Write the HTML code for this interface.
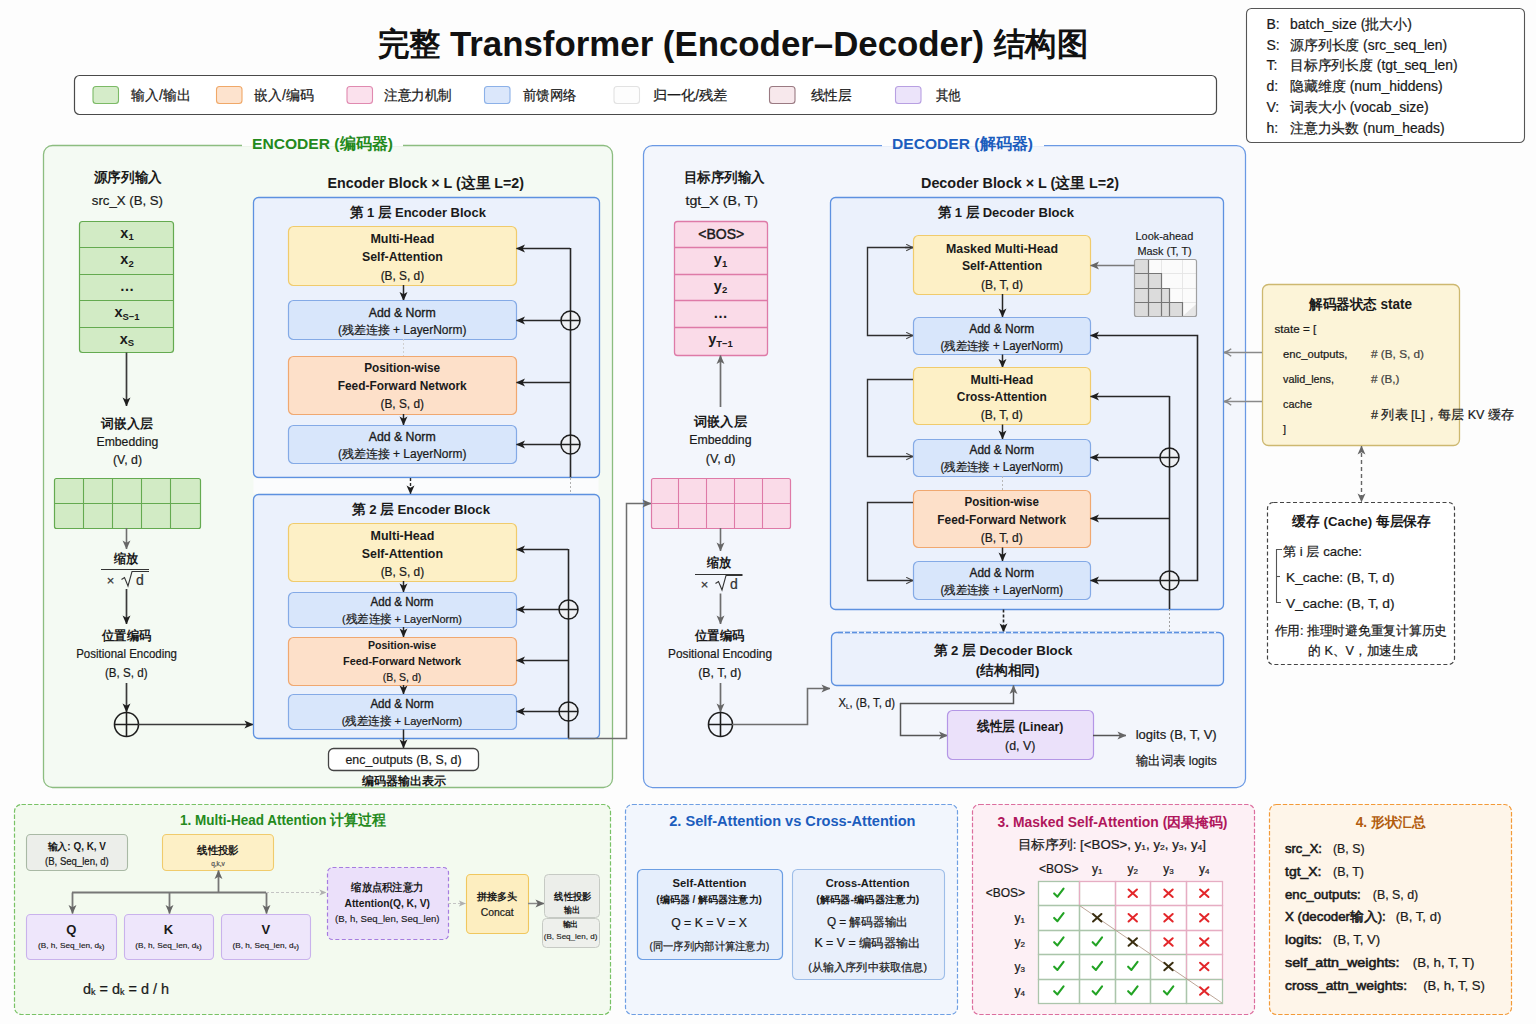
<!DOCTYPE html>
<html><head><meta charset="utf-8"><title>Transformer Encoder-Decoder</title>
<style>
html,body{margin:0;padding:0;background:#fdfdfd;}
body{width:1536px;height:1024px;overflow:hidden;}
svg{display:block;font-family:"Liberation Sans", sans-serif;}
</style></head><body>
<svg width="1536" height="1024" viewBox="0 0 1536 1024">
<rect x="0" y="0" width="1536" height="1024" fill="#fdfdfd"/>
<defs>
<marker id="ahd" viewBox="0 0 10 10" refX="9.5" refY="5" markerWidth="9" markerHeight="9" markerUnits="userSpaceOnUse" orient="auto"><path d="M0,0.6 L10,5 L0,9.4 L2.6,5 z" fill="#1e1e1e"/></marker>
<marker id="ahg" viewBox="0 0 10 10" refX="9.5" refY="5" markerWidth="9" markerHeight="9" markerUnits="userSpaceOnUse" orient="auto"><path d="M0,0.6 L10,5 L0,9.4 L2.6,5 z" fill="#666"/></marker>
<marker id="ahl" viewBox="0 0 10 10" refX="9.5" refY="5" markerWidth="7" markerHeight="7" markerUnits="userSpaceOnUse" orient="auto"><path d="M0,0.6 L10,5 L0,9.4 L2.6,5 z" fill="#b0b0b0"/></marker>
<marker id="ahgs" viewBox="0 0 10 10" refX="0.5" refY="5" markerWidth="9" markerHeight="9" markerUnits="userSpaceOnUse" orient="auto"><path d="M10,0.6 L0,5 L10,9.4 L7.4,5 z" fill="#666"/></marker>
<marker id="ahgo" viewBox="0 0 10 10" refX="9.5" refY="5" markerWidth="9" markerHeight="9" markerUnits="userSpaceOnUse" orient="auto"><path d="M1.5,0.8 Q5,4 9.5,5 Q5,6 1.5,9.2" fill="none" stroke="#888" stroke-width="1.6"/></marker>
<marker id="aho" viewBox="0 0 10 10" refX="9.5" refY="5" markerWidth="8" markerHeight="8" markerUnits="userSpaceOnUse" orient="auto"><path d="M1,1 L9.3,5 L1,9" fill="none" stroke="#444" stroke-width="1.3"/></marker>
</defs>
<text x="732.75" y="44" font-size="35.5" font-weight="bold" fill="#111" text-anchor="middle" dominant-baseline="central" textLength="710.5" lengthAdjust="spacingAndGlyphs" ><tspan font-size="32">完整</tspan> Transformer (Encoder–Decoder) <tspan font-size="32">结构图</tspan></text>
<rect x="74.5" y="75.5" width="1142.0" height="39.0" rx="5" fill="#ffffff" stroke="#4a4a4a" stroke-width="1.2" />
<rect x="93" y="86.5" width="25.5" height="17" rx="3" fill="#d5ecc9" stroke="#7cba66" stroke-width="1.1" />
<text x="131" y="95" font-size="14" font-weight="normal" fill="#1a1a1a" text-anchor="start" dominant-baseline="central" textLength="60" lengthAdjust="spacingAndGlyphs" stroke="#1a1a1a" stroke-width="0.22" >输入/输出</text>
<rect x="216.5" y="86.5" width="25.5" height="17" rx="3" fill="#fde3ce" stroke="#f0a868" stroke-width="1.1" />
<text x="254" y="95" font-size="14" font-weight="normal" fill="#1a1a1a" text-anchor="start" dominant-baseline="central" textLength="60" lengthAdjust="spacingAndGlyphs" stroke="#1a1a1a" stroke-width="0.22" >嵌入/编码</text>
<rect x="347" y="86.5" width="25.5" height="17" rx="3" fill="#fbe1ed" stroke="#e08ab0" stroke-width="1.1" />
<text x="384" y="95" font-size="14" font-weight="normal" fill="#1a1a1a" text-anchor="start" dominant-baseline="central" textLength="67.8" lengthAdjust="spacingAndGlyphs" stroke="#1a1a1a" stroke-width="0.22" >注意力机制</text>
<rect x="484.5" y="86.5" width="25.5" height="17" rx="3" fill="#dbe7fb" stroke="#8cb1e8" stroke-width="1.1" />
<text x="523" y="95" font-size="14" font-weight="normal" fill="#1a1a1a" text-anchor="start" dominant-baseline="central" textLength="53.7" lengthAdjust="spacingAndGlyphs" stroke="#1a1a1a" stroke-width="0.22" >前馈网络</text>
<rect x="614" y="86.5" width="25.5" height="17" rx="3" fill="#fdfdfd" stroke="#e2e2e2" stroke-width="1.1" />
<text x="652.5" y="95" font-size="14" font-weight="normal" fill="#1a1a1a" text-anchor="start" dominant-baseline="central" textLength="75" lengthAdjust="spacingAndGlyphs" stroke="#1a1a1a" stroke-width="0.22" >归一化/残差</text>
<rect x="769.5" y="86.5" width="25.5" height="17" rx="3" fill="#f7e8ec" stroke="#9a7a82" stroke-width="1.1" />
<text x="810.5" y="95" font-size="14" font-weight="normal" fill="#1a1a1a" text-anchor="start" dominant-baseline="central" textLength="41" lengthAdjust="spacingAndGlyphs" stroke="#1a1a1a" stroke-width="0.22" >线性层</text>
<rect x="895.5" y="86.5" width="25.5" height="17" rx="3" fill="#ece4fa" stroke="#b8a0e2" stroke-width="1.1" />
<text x="935.5" y="95" font-size="14" font-weight="normal" fill="#1a1a1a" text-anchor="start" dominant-baseline="central" textLength="25" lengthAdjust="spacingAndGlyphs" stroke="#1a1a1a" stroke-width="0.22" >其他</text>
<rect x="1246.5" y="8.5" width="278.0" height="134.0" rx="5" fill="#ffffff" stroke="#555" stroke-width="1.1" />
<text x="1266.5" y="23.75" font-size="14" font-weight="normal" fill="#1a1a1a" text-anchor="start" dominant-baseline="central" stroke="#1a1a1a" stroke-width="0.22" >B:</text>
<text x="1290" y="23.75" font-size="14" font-weight="normal" fill="#1a1a1a" text-anchor="start" dominant-baseline="central" textLength="122" lengthAdjust="spacingAndGlyphs" stroke="#1a1a1a" stroke-width="0.22" >batch_size (批大小)</text>
<text x="1266.5" y="44.6" font-size="14" font-weight="normal" fill="#1a1a1a" text-anchor="start" dominant-baseline="central" stroke="#1a1a1a" stroke-width="0.22" >S:</text>
<text x="1290" y="44.6" font-size="14" font-weight="normal" fill="#1a1a1a" text-anchor="start" dominant-baseline="central" textLength="157" lengthAdjust="spacingAndGlyphs" stroke="#1a1a1a" stroke-width="0.22" >源序列长度 (src_seq_len)</text>
<text x="1266.5" y="65.45" font-size="14" font-weight="normal" fill="#1a1a1a" text-anchor="start" dominant-baseline="central" stroke="#1a1a1a" stroke-width="0.22" >T:</text>
<text x="1290" y="65.45" font-size="14" font-weight="normal" fill="#1a1a1a" text-anchor="start" dominant-baseline="central" textLength="167.5" lengthAdjust="spacingAndGlyphs" stroke="#1a1a1a" stroke-width="0.22" >目标序列长度 (tgt_seq_len)</text>
<text x="1266.5" y="86.30000000000001" font-size="14" font-weight="normal" fill="#1a1a1a" text-anchor="start" dominant-baseline="central" stroke="#1a1a1a" stroke-width="0.22" >d:</text>
<text x="1290" y="86.30000000000001" font-size="14" font-weight="normal" fill="#1a1a1a" text-anchor="start" dominant-baseline="central" textLength="152.75" lengthAdjust="spacingAndGlyphs" stroke="#1a1a1a" stroke-width="0.22" >隐藏维度 (num_hiddens)</text>
<text x="1266.5" y="107.15" font-size="14" font-weight="normal" fill="#1a1a1a" text-anchor="start" dominant-baseline="central" stroke="#1a1a1a" stroke-width="0.22" >V:</text>
<text x="1290" y="107.15" font-size="14" font-weight="normal" fill="#1a1a1a" text-anchor="start" dominant-baseline="central" textLength="138.75" lengthAdjust="spacingAndGlyphs" stroke="#1a1a1a" stroke-width="0.22" >词表大小 (vocab_size)</text>
<text x="1266.5" y="128.0" font-size="14" font-weight="normal" fill="#1a1a1a" text-anchor="start" dominant-baseline="central" stroke="#1a1a1a" stroke-width="0.22" >h:</text>
<text x="1290" y="128.0" font-size="14" font-weight="normal" fill="#1a1a1a" text-anchor="start" dominant-baseline="central" textLength="154.5" lengthAdjust="spacingAndGlyphs" stroke="#1a1a1a" stroke-width="0.22" >注意力头数 (num_heads)</text>
<rect x="43.5" y="145.5" width="569.0" height="642.0" rx="9" fill="#f4faf3" stroke="#8cbd80" stroke-width="1.3" />
<rect x="242" y="141" width="161" height="5.5" rx="0" fill="#fdfdfd" stroke="none" stroke-width="1" />
<text x="322.5" y="143" font-size="15.5" font-weight="bold" fill="#248a1c" text-anchor="middle" dominant-baseline="central" textLength="141" lengthAdjust="spacingAndGlyphs" >ENCODER (编码器)</text>
<text x="127.75" y="177" font-size="13.5" font-weight="bold" fill="#1a1a1a" text-anchor="middle" dominant-baseline="central" textLength="68" lengthAdjust="spacingAndGlyphs" >源序列输入</text>
<text x="127.4" y="200.5" font-size="13.5" font-weight="normal" fill="#1a1a1a" text-anchor="middle" dominant-baseline="central" textLength="71.25" lengthAdjust="spacingAndGlyphs" stroke="#1a1a1a" stroke-width="0.22" >src_X (B, S)</text>
<rect x="79.5" y="221.5" width="94.0" height="131.0" rx="3" fill="#d2ebc5" stroke="#64aa50" stroke-width="1.2" />
<path d="M79.5,247.5 L173.5,247.5" fill="none" stroke="#64aa50" stroke-width="1.2"/>
<path d="M79.5,274.5 L173.5,274.5" fill="none" stroke="#64aa50" stroke-width="1.2"/>
<path d="M79.5,300.5 L173.5,300.5" fill="none" stroke="#64aa50" stroke-width="1.2"/>
<path d="M79.5,327.5 L173.5,327.5" fill="none" stroke="#64aa50" stroke-width="1.2"/>
<text x="127" y="232.5" font-size="14.5" font-weight="bold" fill="#1a1a1a" text-anchor="middle" dominant-baseline="central" >x<tspan font-size="9.5" dy="3.5">1</tspan></text>
<text x="127" y="259" font-size="14.5" font-weight="bold" fill="#1a1a1a" text-anchor="middle" dominant-baseline="central" >x<tspan font-size="9.5" dy="3.5">2</tspan></text>
<text x="127" y="286" font-size="14.5" font-weight="bold" fill="#1a1a1a" text-anchor="middle" dominant-baseline="central" >…</text>
<text x="127" y="312" font-size="14.5" font-weight="bold" fill="#1a1a1a" text-anchor="middle" dominant-baseline="central" >x<tspan font-size="9.5" dy="3.5">S−1</tspan></text>
<text x="127" y="338.5" font-size="14.5" font-weight="bold" fill="#1a1a1a" text-anchor="middle" dominant-baseline="central" >x<tspan font-size="9.5" dy="3.5">S</tspan></text>
<path d="M126.5,352.5 L126.5,406" fill="none" stroke="#3a3a3a" stroke-width="1.7" marker-end="url(#ahd)"/>
<text x="127.1" y="423" font-size="13" font-weight="bold" fill="#1a1a1a" text-anchor="middle" dominant-baseline="central" textLength="51.75" lengthAdjust="spacingAndGlyphs" >词嵌入层</text>
<text x="127.4" y="441.5" font-size="13" font-weight="normal" fill="#1a1a1a" text-anchor="middle" dominant-baseline="central" textLength="61.75" lengthAdjust="spacingAndGlyphs" stroke="#1a1a1a" stroke-width="0.22" >Embedding</text>
<text x="127.5" y="459.5" font-size="13" font-weight="normal" fill="#1a1a1a" text-anchor="middle" dominant-baseline="central" textLength="29" lengthAdjust="spacingAndGlyphs" stroke="#1a1a1a" stroke-width="0.22" >(V, d)</text>
<rect x="54.5" y="478.5" width="146.0" height="50.0" rx="2" fill="#d2ebc5" stroke="#64aa50" stroke-width="1.2" />
<path d="M83.5,478 L83.5,528" fill="none" stroke="#64aa50" stroke-width="1.1"/>
<path d="M112.5,478 L112.5,528" fill="none" stroke="#64aa50" stroke-width="1.1"/>
<path d="M141.5,478 L141.5,528" fill="none" stroke="#64aa50" stroke-width="1.1"/>
<path d="M170.5,478 L170.5,528" fill="none" stroke="#64aa50" stroke-width="1.1"/>
<path d="M54,503.5 L200,503.5" fill="none" stroke="#64aa50" stroke-width="1.1"/>
<path d="M126.5,528 L126.5,549" fill="none" stroke="#6e6e6e" stroke-width="1.6" marker-end="url(#ahg)"/>
<text x="125.9" y="559" font-size="12.5" font-weight="bold" fill="#1a1a1a" text-anchor="middle" dominant-baseline="central" textLength="24.25" lengthAdjust="spacingAndGlyphs" >缩放</text>
<path d="M101,569.5 L149,569.5" fill="none" stroke="#333" stroke-width="1.1"/>
<text x="110.5" y="580" font-size="13" font-weight="normal" fill="#333" text-anchor="middle" dominant-baseline="central" stroke="#333" stroke-width="0.22" >×</text>
<path d="M121.5,579.5 L124.5,577.5 L128,586 L132,571.5 L149,571.5" fill="none" stroke="#333" stroke-width="1.1"/>
<text x="140" y="580" font-size="14" font-weight="normal" fill="#333" text-anchor="middle" dominant-baseline="central" stroke="#333" stroke-width="0.22" >d</text>
<path d="M126.5,589 L126.5,624" fill="none" stroke="#3a3a3a" stroke-width="1.7" marker-end="url(#ahd)"/>
<text x="126.6" y="635.5" font-size="12.5" font-weight="bold" fill="#1a1a1a" text-anchor="middle" dominant-baseline="central" textLength="49.25" lengthAdjust="spacingAndGlyphs" >位置编码</text>
<text x="126.6" y="653" font-size="13" font-weight="normal" fill="#1a1a1a" text-anchor="middle" dominant-baseline="central" textLength="100.75" lengthAdjust="spacingAndGlyphs" stroke="#1a1a1a" stroke-width="0.22" >Positional Encoding</text>
<text x="126.25" y="672" font-size="13" font-weight="normal" fill="#1a1a1a" text-anchor="middle" dominant-baseline="central" textLength="42.5" lengthAdjust="spacingAndGlyphs" stroke="#1a1a1a" stroke-width="0.22" >(B, S, d)</text>
<path d="M126.5,683 L126.5,712" fill="none" stroke="#3a3a3a" stroke-width="1.7" marker-end="url(#ahd)"/>
<circle cx="126.5" cy="724.5" r="12" fill="none" stroke="#1e1e1e" stroke-width="1.6"/>
<path d="M114.5,724.5 L138.5,724.5 M126.5,712.5 L126.5,736.5" stroke="#1e1e1e" stroke-width="1.6"/>
<path d="M138,724.5 L253,724.5" fill="none" stroke="#3a3a3a" stroke-width="1.6" marker-end="url(#ahd)"/>
<text x="425.75" y="182.5" font-size="14.5" font-weight="bold" fill="#1a1a1a" text-anchor="middle" dominant-baseline="central" textLength="196.5" lengthAdjust="spacingAndGlyphs" >Encoder Block × L (这里 L=2)</text>
<rect x="253.5" y="197.5" width="346.0" height="280.0" rx="5" fill="#ebf1fc" stroke="#5d91e0" stroke-width="1.3" />
<text x="418" y="212" font-size="13.5" font-weight="bold" fill="#1a1a1a" text-anchor="middle" dominant-baseline="central" textLength="136" lengthAdjust="spacingAndGlyphs" >第 1 层 Encoder Block</text>
<rect x="288.5" y="226.5" width="228.0" height="59.0" rx="5" fill="#fdf0c6" stroke="#f0cb6c" stroke-width="1.2" />
<text x="402.4" y="238.5" font-size="12.5" font-weight="bold" fill="#1a1a1a" text-anchor="middle" dominant-baseline="central" textLength="64" lengthAdjust="spacingAndGlyphs" >Multi-Head</text>
<text x="402.4" y="257" font-size="12.5" font-weight="bold" fill="#1a1a1a" text-anchor="middle" dominant-baseline="central" textLength="81" lengthAdjust="spacingAndGlyphs" >Self-Attention</text>
<text x="402.4" y="275.5" font-size="12" font-weight="normal" fill="#1a1a1a" text-anchor="middle" dominant-baseline="central" textLength="43.5" lengthAdjust="spacingAndGlyphs" stroke="#1a1a1a" stroke-width="0.22" >(B, S, d)</text>
<path d="M403.5,285 L403.5,300.5" fill="none" stroke="#262626" stroke-width="1.5" marker-end="url(#ahd)"/>
<rect x="288.5" y="300.5" width="228.0" height="39.0" rx="5" fill="#d8e6fb" stroke="#84aae6" stroke-width="1.2" />
<text x="402.2" y="312" font-size="13" font-weight="normal" fill="#1a1a1a" text-anchor="middle" dominant-baseline="central" textLength="67" lengthAdjust="spacingAndGlyphs" stroke="#1a1a1a" stroke-width="0.35" >Add &amp; Norm</text>
<text x="402.2" y="330" font-size="12" font-weight="normal" fill="#1a1a1a" text-anchor="middle" dominant-baseline="central" textLength="128.5" lengthAdjust="spacingAndGlyphs" stroke="#1a1a1a" stroke-width="0.22" >(残差连接 + LayerNorm)</text>
<path d="M403.5,339 L403.5,356" fill="none" stroke="#d0d0d0" stroke-width="1" stroke-dasharray="2,2"/>
<rect x="288.5" y="356.5" width="228.0" height="58.0" rx="5" fill="#fde0c9" stroke="#f0a870" stroke-width="1.2" />
<text x="402.2" y="368" font-size="12.5" font-weight="bold" fill="#1a1a1a" text-anchor="middle" dominant-baseline="central" textLength="76" lengthAdjust="spacingAndGlyphs" >Position-wise</text>
<text x="402.2" y="385.5" font-size="12.5" font-weight="bold" fill="#1a1a1a" text-anchor="middle" dominant-baseline="central" textLength="129" lengthAdjust="spacingAndGlyphs" >Feed-Forward Network</text>
<text x="402.2" y="404" font-size="12" font-weight="normal" fill="#1a1a1a" text-anchor="middle" dominant-baseline="central" textLength="43.5" lengthAdjust="spacingAndGlyphs" stroke="#1a1a1a" stroke-width="0.22" >(B, S, d)</text>
<path d="M403.5,414 L403.5,425" fill="none" stroke="#262626" stroke-width="1.5" marker-end="url(#ahd)"/>
<rect x="288.5" y="425.5" width="228.0" height="38.0" rx="5" fill="#d8e6fb" stroke="#84aae6" stroke-width="1.2" />
<text x="402.2" y="436" font-size="13" font-weight="normal" fill="#1a1a1a" text-anchor="middle" dominant-baseline="central" textLength="67" lengthAdjust="spacingAndGlyphs" stroke="#1a1a1a" stroke-width="0.35" >Add &amp; Norm</text>
<text x="402.2" y="454" font-size="12" font-weight="normal" fill="#1a1a1a" text-anchor="middle" dominant-baseline="central" textLength="128.5" lengthAdjust="spacingAndGlyphs" stroke="#1a1a1a" stroke-width="0.22" >(残差连接 + LayerNorm)</text>
<path d="M570.5,248 L570.5,477.5" fill="none" stroke="#262626" stroke-width="1.6"/>
<path d="M570.5,477.5 L570.5,494" fill="none" stroke="#c0c0c0" stroke-width="1" stroke-dasharray="2,2"/>
<path d="M570,248.5 L516.5,248.5" fill="none" stroke="#262626" stroke-width="1.6" marker-end="url(#ahd)"/>
<path d="M570,320.5 L516.5,320.5" fill="none" stroke="#262626" stroke-width="1.6" marker-end="url(#ahd)"/>
<path d="M570,382.5 L516.5,382.5" fill="none" stroke="#262626" stroke-width="1.6" marker-end="url(#ahd)"/>
<path d="M570,444.5 L516.5,444.5" fill="none" stroke="#262626" stroke-width="1.6" marker-end="url(#ahd)"/>
<circle cx="570.5" cy="320.5" r="9.5" fill="#eef0f4" stroke="#1e1e1e" stroke-width="1.5"/>
<path d="M561.0,320.5 L580.0,320.5 M570.5,311.0 L570.5,330.0" stroke="#1e1e1e" stroke-width="1.5"/>
<circle cx="570.5" cy="444.5" r="9.5" fill="#eef0f4" stroke="#1e1e1e" stroke-width="1.5"/>
<path d="M561.0,444.5 L580.0,444.5 M570.5,435.0 L570.5,454.0" stroke="#1e1e1e" stroke-width="1.5"/>
<rect x="253.5" y="478.5" width="345.0" height="15.0" rx="0" fill="#fbfcfd" stroke="none" stroke-width="1" />
<path d="M570.5,478 L570.5,494" fill="none" stroke="#b0b0b0" stroke-width="1" stroke-dasharray="2,2"/>
<path d="M410.5,478 L410.5,494" fill="none" stroke="#262626" stroke-width="1.4" stroke-dasharray="3,2" marker-end="url(#ahd)"/>
<rect x="253.5" y="494.5" width="346.0" height="244.0" rx="5" fill="#ebf1fc" stroke="#5d91e0" stroke-width="1.3" />
<text x="420.9" y="509" font-size="13.5" font-weight="bold" fill="#1a1a1a" text-anchor="middle" dominant-baseline="central" textLength="138.25" lengthAdjust="spacingAndGlyphs" >第 2 层 Encoder Block</text>
<rect x="288.5" y="523.5" width="228.0" height="58.0" rx="5" fill="#fdf0c6" stroke="#f0cb6c" stroke-width="1.2" />
<text x="402.4" y="536" font-size="12.5" font-weight="bold" fill="#1a1a1a" text-anchor="middle" dominant-baseline="central" textLength="63.75" lengthAdjust="spacingAndGlyphs" >Multi-Head</text>
<text x="402.4" y="554" font-size="12.5" font-weight="bold" fill="#1a1a1a" text-anchor="middle" dominant-baseline="central" textLength="81.25" lengthAdjust="spacingAndGlyphs" >Self-Attention</text>
<text x="402.4" y="572" font-size="12" font-weight="normal" fill="#1a1a1a" text-anchor="middle" dominant-baseline="central" textLength="43.5" lengthAdjust="spacingAndGlyphs" stroke="#1a1a1a" stroke-width="0.22" >(B, S, d)</text>
<path d="M403.5,581 L403.5,592" fill="none" stroke="#262626" stroke-width="1.5" marker-end="url(#ahd)"/>
<rect x="288.5" y="592.5" width="228.0" height="35.0" rx="5" fill="#d8e6fb" stroke="#84aae6" stroke-width="1.2" />
<text x="402" y="602" font-size="12.5" font-weight="normal" fill="#1a1a1a" text-anchor="middle" dominant-baseline="central" textLength="63" lengthAdjust="spacingAndGlyphs" stroke="#1a1a1a" stroke-width="0.35" >Add &amp; Norm</text>
<text x="402" y="619" font-size="11.5" font-weight="normal" fill="#1a1a1a" text-anchor="middle" dominant-baseline="central" textLength="120" lengthAdjust="spacingAndGlyphs" stroke="#1a1a1a" stroke-width="0.22" >(残差连接 + LayerNorm)</text>
<path d="M403.5,627 L403.5,637" fill="none" stroke="#262626" stroke-width="1.5" marker-end="url(#ahd)"/>
<rect x="288.5" y="637.5" width="228.0" height="48.0" rx="5" fill="#fde0c9" stroke="#f0a870" stroke-width="1.2" />
<text x="402" y="645" font-size="11.5" font-weight="bold" fill="#1a1a1a" text-anchor="middle" dominant-baseline="central" textLength="68.25" lengthAdjust="spacingAndGlyphs" >Position-wise</text>
<text x="402" y="660.5" font-size="11.5" font-weight="bold" fill="#1a1a1a" text-anchor="middle" dominant-baseline="central" textLength="118" lengthAdjust="spacingAndGlyphs" >Feed-Forward Network</text>
<text x="402" y="677" font-size="11.5" font-weight="normal" fill="#1a1a1a" text-anchor="middle" dominant-baseline="central" textLength="38.5" lengthAdjust="spacingAndGlyphs" stroke="#1a1a1a" stroke-width="0.22" >(B, S, d)</text>
<path d="M403.5,685 L403.5,694" fill="none" stroke="#262626" stroke-width="1.5" marker-end="url(#ahd)"/>
<rect x="288.5" y="694.5" width="228.0" height="35.0" rx="5" fill="#d8e6fb" stroke="#84aae6" stroke-width="1.2" />
<text x="402" y="704" font-size="12.5" font-weight="normal" fill="#1a1a1a" text-anchor="middle" dominant-baseline="central" textLength="63.25" lengthAdjust="spacingAndGlyphs" stroke="#1a1a1a" stroke-width="0.35" >Add &amp; Norm</text>
<text x="402" y="721" font-size="11.5" font-weight="normal" fill="#1a1a1a" text-anchor="middle" dominant-baseline="central" textLength="120.5" lengthAdjust="spacingAndGlyphs" stroke="#1a1a1a" stroke-width="0.22" >(残差连接 + LayerNorm)</text>
<path d="M568.5,549 L568.5,738" fill="none" stroke="#262626" stroke-width="1.6"/>
<path d="M568,549.5 L516.5,549.5" fill="none" stroke="#262626" stroke-width="1.6" marker-end="url(#ahd)"/>
<path d="M568,609.5 L516.5,609.5" fill="none" stroke="#262626" stroke-width="1.6" marker-end="url(#ahd)"/>
<path d="M568,660.5 L516.5,660.5" fill="none" stroke="#262626" stroke-width="1.6" marker-end="url(#ahd)"/>
<path d="M568,711.5 L516.5,711.5" fill="none" stroke="#262626" stroke-width="1.6" marker-end="url(#ahd)"/>
<circle cx="568.5" cy="609.5" r="9.5" fill="#eef0f4" stroke="#1e1e1e" stroke-width="1.5"/>
<path d="M559.0,609.5 L578.0,609.5 M568.5,600.0 L568.5,619.0" stroke="#1e1e1e" stroke-width="1.5"/>
<circle cx="568.5" cy="711.5" r="9.5" fill="#eef0f4" stroke="#1e1e1e" stroke-width="1.5"/>
<path d="M559.0,711.5 L578.0,711.5 M568.5,702.0 L568.5,721.0" stroke="#1e1e1e" stroke-width="1.5"/>
<path d="M403.5,729.5 L403.5,748" fill="none" stroke="#262626" stroke-width="1.5" marker-end="url(#ahd)"/>
<rect x="328.5" y="748.5" width="150.0" height="22.0" rx="5" fill="#ffffff" stroke="#444" stroke-width="1.3" />
<text x="403.5" y="759.5" font-size="13.5" font-weight="normal" fill="#1a1a1a" text-anchor="middle" dominant-baseline="central" textLength="116" lengthAdjust="spacingAndGlyphs" stroke="#1a1a1a" stroke-width="0.22" >enc_outputs (B, S, d)</text>
<text x="404" y="780.5" font-size="12" font-weight="bold" fill="#1a1a1a" text-anchor="middle" dominant-baseline="central" textLength="84.5" lengthAdjust="spacingAndGlyphs" >编码器输出表示</text>
<rect x="643.5" y="145.5" width="602.0" height="642.0" rx="9" fill="#f3f6fc" stroke="#6a99e4" stroke-width="1.25" />
<rect x="882" y="141" width="162" height="5.5" rx="0" fill="#fdfdfd" stroke="none" stroke-width="1" />
<text x="962.5" y="143" font-size="15.5" font-weight="bold" fill="#1c5dbd" text-anchor="middle" dominant-baseline="central" textLength="141" lengthAdjust="spacingAndGlyphs" >DECODER (解码器)</text>
<text x="724.4" y="177" font-size="13.5" font-weight="bold" fill="#1a1a1a" text-anchor="middle" dominant-baseline="central" textLength="81.25" lengthAdjust="spacingAndGlyphs" >目标序列输入</text>
<text x="721.75" y="200.5" font-size="13.5" font-weight="normal" fill="#1a1a1a" text-anchor="middle" dominant-baseline="central" textLength="72.5" lengthAdjust="spacingAndGlyphs" stroke="#1a1a1a" stroke-width="0.22" >tgt_X (B, T)</text>
<rect x="674.5" y="221.5" width="93.0" height="134.0" rx="3" fill="#fadbe8" stroke="#de7aa7" stroke-width="1.3" />
<path d="M674,247.5 L767.5,247.5" fill="none" stroke="#de7aa7" stroke-width="1.3"/>
<path d="M674,274.5 L767.5,274.5" fill="none" stroke="#de7aa7" stroke-width="1.3"/>
<path d="M674,300.5 L767.5,300.5" fill="none" stroke="#de7aa7" stroke-width="1.3"/>
<path d="M674,327.5 L767.5,327.5" fill="none" stroke="#de7aa7" stroke-width="1.3"/>
<text x="721.25" y="234" font-size="14.5" font-weight="normal" fill="#1a1a1a" text-anchor="middle" dominant-baseline="central" textLength="46" lengthAdjust="spacingAndGlyphs" stroke="#1a1a1a" stroke-width="0.45" >&lt;BOS&gt;</text>
<text x="720.5" y="259" font-size="14.5" font-weight="bold" fill="#1a1a1a" text-anchor="middle" dominant-baseline="central" >y<tspan font-size="9.5" dy="3.5">1</tspan></text>
<text x="720.5" y="285.5" font-size="14.5" font-weight="bold" fill="#1a1a1a" text-anchor="middle" dominant-baseline="central" >y<tspan font-size="9.5" dy="3.5">2</tspan></text>
<text x="720.5" y="312.5" font-size="14.5" font-weight="bold" fill="#1a1a1a" text-anchor="middle" dominant-baseline="central" >…</text>
<text x="720.5" y="339" font-size="14.5" font-weight="bold" fill="#1a1a1a" text-anchor="middle" dominant-baseline="central" >y<tspan font-size="9.5" dy="3.5">T−1</tspan></text>
<path d="M720.5,407 L720.5,355.5" fill="none" stroke="#6e6e6e" stroke-width="1.7" marker-end="url(#ahg)"/>
<text x="720.25" y="421" font-size="13" font-weight="bold" fill="#1a1a1a" text-anchor="middle" dominant-baseline="central" textLength="53" lengthAdjust="spacingAndGlyphs" >词嵌入层</text>
<text x="720.4" y="439.5" font-size="13" font-weight="normal" fill="#1a1a1a" text-anchor="middle" dominant-baseline="central" textLength="62.25" lengthAdjust="spacingAndGlyphs" stroke="#1a1a1a" stroke-width="0.22" >Embedding</text>
<text x="720.6" y="458" font-size="13" font-weight="normal" fill="#1a1a1a" text-anchor="middle" dominant-baseline="central" textLength="29.75" lengthAdjust="spacingAndGlyphs" stroke="#1a1a1a" stroke-width="0.22" >(V, d)</text>
<rect x="651.5" y="478.5" width="139.0" height="50.0" rx="2" fill="#fadbe8" stroke="#de7aa7" stroke-width="1.2" />
<path d="M678.5,478 L678.5,528" fill="none" stroke="#de7aa7" stroke-width="1.1"/>
<path d="M706.5,478 L706.5,528" fill="none" stroke="#de7aa7" stroke-width="1.1"/>
<path d="M734.5,478 L734.5,528" fill="none" stroke="#de7aa7" stroke-width="1.1"/>
<path d="M762.5,478 L762.5,528" fill="none" stroke="#de7aa7" stroke-width="1.1"/>
<path d="M651,503.5 L790.5,503.5" fill="none" stroke="#de7aa7" stroke-width="1.1"/>
<path d="M720.5,528 L720.5,551" fill="none" stroke="#6e6e6e" stroke-width="1.6" marker-end="url(#ahg)"/>
<text x="719.1" y="563" font-size="12.5" font-weight="bold" fill="#1a1a1a" text-anchor="middle" dominant-baseline="central" textLength="24.25" lengthAdjust="spacingAndGlyphs" >缩放</text>
<path d="M695,574.5 L742.5,574.5" fill="none" stroke="#333" stroke-width="1.1"/>
<text x="704.5" y="584" font-size="13" font-weight="normal" fill="#333" text-anchor="middle" dominant-baseline="central" stroke="#333" stroke-width="0.22" >×</text>
<path d="M715.5,583.5 L718.5,581.5 L722,590 L726,575.5 L742.5,575.5" fill="none" stroke="#333" stroke-width="1.1"/>
<text x="734" y="584" font-size="14" font-weight="normal" fill="#333" text-anchor="middle" dominant-baseline="central" stroke="#333" stroke-width="0.22" >d</text>
<path d="M720.5,593.5 L720.5,624" fill="none" stroke="#6e6e6e" stroke-width="1.7" marker-end="url(#ahg)"/>
<text x="719.75" y="635.5" font-size="12.5" font-weight="bold" fill="#1a1a1a" text-anchor="middle" dominant-baseline="central" textLength="49.5" lengthAdjust="spacingAndGlyphs" >位置编码</text>
<text x="720" y="653" font-size="13" font-weight="normal" fill="#1a1a1a" text-anchor="middle" dominant-baseline="central" textLength="104" lengthAdjust="spacingAndGlyphs" stroke="#1a1a1a" stroke-width="0.22" >Positional Encoding</text>
<text x="719.75" y="672" font-size="13" font-weight="normal" fill="#1a1a1a" text-anchor="middle" dominant-baseline="central" textLength="43" lengthAdjust="spacingAndGlyphs" stroke="#1a1a1a" stroke-width="0.22" >(B, T, d)</text>
<path d="M720.5,683 L720.5,712" fill="none" stroke="#6e6e6e" stroke-width="1.7" marker-end="url(#ahg)"/>
<circle cx="720.5" cy="724.5" r="12" fill="none" stroke="#1e1e1e" stroke-width="1.6"/>
<path d="M708.5,724.5 L732.5,724.5 M720.5,712.5 L720.5,736.5" stroke="#1e1e1e" stroke-width="1.6"/>
<path d="M732,724.5 L807.5,724.5 L807.5,688.5 L830,688.5" fill="none" stroke="#6e6e6e" stroke-width="1.6" marker-end="url(#ahg)"/>
<path d="M568,738.5 L626.5,738.5 L626.5,503.5 L651,503.5" fill="none" stroke="#6e6e6e" stroke-width="1.5" marker-end="url(#ahg)"/>
<text x="1020" y="182.5" font-size="14.5" font-weight="bold" fill="#1a1a1a" text-anchor="middle" dominant-baseline="central" textLength="198" lengthAdjust="spacingAndGlyphs" >Decoder Block × L (这里 L=2)</text>
<rect x="830.5" y="197.5" width="393.0" height="412.0" rx="5" fill="#ebf1fc" stroke="#5d91e0" stroke-width="1.3" />
<text x="1005.75" y="212" font-size="13.5" font-weight="bold" fill="#1a1a1a" text-anchor="middle" dominant-baseline="central" textLength="136.5" lengthAdjust="spacingAndGlyphs" >第 1 层 Decoder Block</text>
<rect x="913.5" y="235.5" width="177.0" height="59.0" rx="5" fill="#fdf0c6" stroke="#f0cb6c" stroke-width="1.2" />
<text x="1002" y="249" font-size="12.5" font-weight="bold" fill="#1a1a1a" text-anchor="middle" dominant-baseline="central" textLength="112" lengthAdjust="spacingAndGlyphs" >Masked Multi-Head</text>
<text x="1002" y="266" font-size="12.5" font-weight="bold" fill="#1a1a1a" text-anchor="middle" dominant-baseline="central" textLength="80.25" lengthAdjust="spacingAndGlyphs" >Self-Attention</text>
<text x="1002" y="285" font-size="12" font-weight="normal" fill="#1a1a1a" text-anchor="middle" dominant-baseline="central" textLength="42" lengthAdjust="spacingAndGlyphs" stroke="#1a1a1a" stroke-width="0.22" >(B, T, d)</text>
<path d="M1002.5,294 L1002.5,317" fill="none" stroke="#262626" stroke-width="1.5" marker-end="url(#ahd)"/>
<rect x="913.5" y="317.5" width="177.0" height="37.0" rx="5" fill="#d8e6fb" stroke="#84aae6" stroke-width="1.2" />
<text x="1001.75" y="328" font-size="13" font-weight="normal" fill="#1a1a1a" text-anchor="middle" dominant-baseline="central" textLength="65" lengthAdjust="spacingAndGlyphs" stroke="#1a1a1a" stroke-width="0.35" >Add &amp; Norm</text>
<text x="1001.75" y="346" font-size="12" font-weight="normal" fill="#1a1a1a" text-anchor="middle" dominant-baseline="central" textLength="122.5" lengthAdjust="spacingAndGlyphs" stroke="#1a1a1a" stroke-width="0.22" >(残差连接 + LayerNorm)</text>
<path d="M1002.5,354.5 L1002.5,367.5" fill="none" stroke="#262626" stroke-width="1.5" marker-end="url(#ahd)"/>
<rect x="913.5" y="367.5" width="177.0" height="57.0" rx="5" fill="#fdf0c6" stroke="#f0cb6c" stroke-width="1.2" />
<text x="1001.8" y="379.5" font-size="12.5" font-weight="bold" fill="#1a1a1a" text-anchor="middle" dominant-baseline="central" textLength="62.75" lengthAdjust="spacingAndGlyphs" >Multi-Head</text>
<text x="1001.8" y="397" font-size="12.5" font-weight="bold" fill="#1a1a1a" text-anchor="middle" dominant-baseline="central" textLength="90" lengthAdjust="spacingAndGlyphs" >Cross-Attention</text>
<text x="1001.8" y="415" font-size="12" font-weight="normal" fill="#1a1a1a" text-anchor="middle" dominant-baseline="central" textLength="42" lengthAdjust="spacingAndGlyphs" stroke="#1a1a1a" stroke-width="0.22" >(B, T, d)</text>
<path d="M1002.5,424.5 L1002.5,439" fill="none" stroke="#262626" stroke-width="1.5" marker-end="url(#ahd)"/>
<rect x="913.5" y="439.5" width="177.0" height="37.0" rx="5" fill="#d8e6fb" stroke="#84aae6" stroke-width="1.2" />
<text x="1001.75" y="449.5" font-size="13" font-weight="normal" fill="#1a1a1a" text-anchor="middle" dominant-baseline="central" textLength="64.5" lengthAdjust="spacingAndGlyphs" stroke="#1a1a1a" stroke-width="0.35" >Add &amp; Norm</text>
<text x="1001.75" y="467" font-size="12" font-weight="normal" fill="#1a1a1a" text-anchor="middle" dominant-baseline="central" textLength="122.5" lengthAdjust="spacingAndGlyphs" stroke="#1a1a1a" stroke-width="0.22" >(残差连接 + LayerNorm)</text>
<path d="M1002.5,476 L1002.5,490" fill="none" stroke="#b8b8b8" stroke-width="1" stroke-dasharray="2,2"/>
<rect x="913.5" y="490.5" width="177.0" height="57.0" rx="5" fill="#fde0c9" stroke="#f0a870" stroke-width="1.2" />
<text x="1001.7" y="502" font-size="12.5" font-weight="bold" fill="#1a1a1a" text-anchor="middle" dominant-baseline="central" textLength="74.5" lengthAdjust="spacingAndGlyphs" >Position-wise</text>
<text x="1001.7" y="519.5" font-size="12.5" font-weight="bold" fill="#1a1a1a" text-anchor="middle" dominant-baseline="central" textLength="128.75" lengthAdjust="spacingAndGlyphs" >Feed-Forward Network</text>
<text x="1001.7" y="538" font-size="12" font-weight="normal" fill="#1a1a1a" text-anchor="middle" dominant-baseline="central" textLength="42" lengthAdjust="spacingAndGlyphs" stroke="#1a1a1a" stroke-width="0.22" >(B, T, d)</text>
<path d="M1002.5,547.5 L1002.5,561" fill="none" stroke="#262626" stroke-width="1.5" marker-end="url(#ahd)"/>
<rect x="913.5" y="561.5" width="177.0" height="38.0" rx="5" fill="#d8e6fb" stroke="#84aae6" stroke-width="1.2" />
<text x="1001.75" y="572.5" font-size="13" font-weight="normal" fill="#1a1a1a" text-anchor="middle" dominant-baseline="central" textLength="64.5" lengthAdjust="spacingAndGlyphs" stroke="#1a1a1a" stroke-width="0.35" >Add &amp; Norm</text>
<text x="1001.75" y="590" font-size="12" font-weight="normal" fill="#1a1a1a" text-anchor="middle" dominant-baseline="central" textLength="122.5" lengthAdjust="spacingAndGlyphs" stroke="#1a1a1a" stroke-width="0.22" >(残差连接 + LayerNorm)</text>
<path d="M913,247.5 L867.5,247.5 L867.5,335.5 L913,335.5" fill="none" stroke="#2e2e2e" stroke-width="1.4" marker-end="url(#aho)"/>
<path d="M913,379.5 L867.5,379.5 L867.5,456.5 L913,456.5" fill="none" stroke="#2e2e2e" stroke-width="1.4" marker-end="url(#aho)"/>
<path d="M913,502.5 L867.5,502.5 L867.5,580.5 L913,580.5" fill="none" stroke="#2e2e2e" stroke-width="1.4" marker-end="url(#aho)"/>
<path d="M905,247.5 L913,247.5" fill="none" stroke="#2e2e2e" stroke-width="1.4" marker-end="url(#aho)"/>
<path d="M1169.5,396 L1169.5,609" fill="none" stroke="#262626" stroke-width="1.6"/>
<path d="M1169.5,609 L1169.5,632" fill="none" stroke="#a0a0a0" stroke-width="1" stroke-dasharray="2,2"/>
<path d="M1169.5,396.5 L1090.5,396.5" fill="none" stroke="#262626" stroke-width="1.6" marker-end="url(#ahd)"/>
<path d="M1169.5,457.5 L1090.5,457.5" fill="none" stroke="#262626" stroke-width="1.6" marker-end="url(#ahd)"/>
<path d="M1169.5,518.5 L1090.5,518.5" fill="none" stroke="#262626" stroke-width="1.6" marker-end="url(#ahd)"/>
<path d="M1169.5,580.5 L1090.5,580.5" fill="none" stroke="#262626" stroke-width="1.6" marker-end="url(#ahd)"/>
<path d="M1179,580.5 L1197.5,580.5 L1197.5,335.5 L1090.5,335.5" fill="none" stroke="#262626" stroke-width="1.6" marker-end="url(#ahd)"/>
<circle cx="1169.5" cy="457.5" r="9.5" fill="#eef0f4" stroke="#1e1e1e" stroke-width="1.5"/>
<path d="M1160.0,457.5 L1179.0,457.5 M1169.5,448.0 L1169.5,467.0" stroke="#1e1e1e" stroke-width="1.5"/>
<circle cx="1169.5" cy="580.5" r="9.5" fill="#eef0f4" stroke="#1e1e1e" stroke-width="1.5"/>
<path d="M1160.0,580.5 L1179.0,580.5 M1169.5,571.0 L1169.5,590.0" stroke="#1e1e1e" stroke-width="1.5"/>
<text x="1164.4" y="236" font-size="11" font-weight="normal" fill="#1a1a1a" text-anchor="middle" dominant-baseline="central" textLength="57.75" lengthAdjust="spacingAndGlyphs" stroke="#1a1a1a" stroke-width="0.15" >Look-ahead</text>
<text x="1164.6" y="251" font-size="11" font-weight="normal" fill="#1a1a1a" text-anchor="middle" dominant-baseline="central" textLength="54.25" lengthAdjust="spacingAndGlyphs" stroke="#1a1a1a" stroke-width="0.15" >Mask (T, T)</text>
<rect x="1134.8" y="259.7" width="61.5" height="56.6" rx="2" fill="#fbfbfb" stroke="none" stroke-width="1" />
<path d="M1148.5,259.7 L1148.5,316.3" fill="none" stroke="#e4e4e4" stroke-width="0.9"/>
<path d="M1161.5,259.7 L1161.5,316.3" fill="none" stroke="#e4e4e4" stroke-width="0.9"/>
<path d="M1182.5,259.7 L1182.5,316.3" fill="none" stroke="#e4e4e4" stroke-width="0.9"/>
<path d="M1134.8,273.5 L1196.3,273.5" fill="none" stroke="#e4e4e4" stroke-width="0.9"/>
<path d="M1134.8,288.5 L1196.3,288.5" fill="none" stroke="#e4e4e4" stroke-width="0.9"/>
<path d="M1134.8,302.5 L1196.3,302.5" fill="none" stroke="#e4e4e4" stroke-width="0.9"/>
<rect x="1134.8" y="259.7" width="13.6" height="14.1" rx="0" fill="#dcdcdc" stroke="none" stroke-width="1" />
<rect x="1134.8" y="273.8" width="26.8" height="14.2" rx="0" fill="#dcdcdc" stroke="none" stroke-width="1" />
<rect x="1134.8" y="288" width="34.6" height="14.1" rx="0" fill="#dcdcdc" stroke="none" stroke-width="1" />
<rect x="1134.8" y="302.1" width="47.8" height="14.2" rx="0" fill="#dcdcdc" stroke="none" stroke-width="1" />
<path d="M1182.6,316.3 L1196.3,316.3 L1196.3,304 z" fill="#e6e6e6"/>
<path d="M1148.5,259.7 L1148.5,316.3" fill="none" stroke="#767676" stroke-width="1.2"/>
<path d="M1134.8,273.5 L1161.5,273.5 L1161.5,316.3" fill="none" stroke="#767676" stroke-width="1.2"/>
<path d="M1134.8,288.5 L1169.5,288.5 L1169.5,316.3" fill="none" stroke="#767676" stroke-width="1.2"/>
<path d="M1134.8,302.5 L1182.5,302.5 L1182.5,316.3" fill="none" stroke="#767676" stroke-width="1.2"/>
<rect x="1134.5" y="259.5" width="62.0" height="57.0" rx="2" fill="none" stroke="#a0a0a0" stroke-width="1.2" />
<path d="M1134.5,265.5 L1090.5,265.5" fill="none" stroke="#7a7a7a" stroke-width="1.5" marker-end="url(#ahg)"/>
<path d="M1003.5,609.5 L1003.5,632" fill="none" stroke="#262626" stroke-width="1.6" stroke-dasharray="3,2" marker-end="url(#ahd)"/>
<rect x="831.5" y="632.5" width="392.0" height="53.0" rx="5" fill="#ebf1fc" stroke="#5d91e0" stroke-width="1.3" />
<path d="M838,632.5 L1216,632.5" fill="none" stroke="#f3f6fc" stroke-width="1.6"/>
<path d="M838,632.5 L1216,632.5" fill="none" stroke="#5d91e0" stroke-width="1.3" stroke-dasharray="5,2"/>
<text x="1003" y="650" font-size="13.5" font-weight="bold" fill="#1a1a1a" text-anchor="middle" dominant-baseline="central" textLength="139" lengthAdjust="spacingAndGlyphs" >第 2 层 Decoder Block</text>
<text x="1007.6" y="670" font-size="13.5" font-weight="bold" fill="#1a1a1a" text-anchor="middle" dominant-baseline="central" textLength="63.8" lengthAdjust="spacingAndGlyphs" >(结构相同)</text>
<text x="838.5" y="702.5" font-size="12.5" font-weight="normal" fill="#1a1a1a" text-anchor="start" dominant-baseline="central" textLength="56.5" lengthAdjust="spacingAndGlyphs" stroke="#1a1a1a" stroke-width="0.22" >X<tspan font-size="7" dy="3">L</tspan><tspan dy="-3">, (B, T, d)</tspan></text>
<path d="M900,703.5 L1013.5,703.5 L1013.5,685.5" fill="none" stroke="#555" stroke-width="1.5" marker-end="url(#ahg)"/>
<path d="M900.5,703 L900.5,735.5 L947.5,735.5" fill="none" stroke="#555" stroke-width="1.5" marker-end="url(#ahg)"/>
<rect x="947.5" y="710.5" width="146.0" height="49.0" rx="5" fill="#ebe1fa" stroke="#b496e6" stroke-width="1.2" />
<text x="1020.1" y="726" font-size="13.5" font-weight="bold" fill="#1a1a1a" text-anchor="middle" dominant-baseline="central" textLength="86.6" lengthAdjust="spacingAndGlyphs" >线性层 (Linear)</text>
<text x="1020.2" y="745" font-size="13.5" font-weight="normal" fill="#1a1a1a" text-anchor="middle" dominant-baseline="central" textLength="30.3" lengthAdjust="spacingAndGlyphs" stroke="#1a1a1a" stroke-width="0.22" >(d, V)</text>
<path d="M1093,735.5 L1126,735.5" fill="none" stroke="#555" stroke-width="1.5" marker-end="url(#ahg)"/>
<text x="1135.7" y="734" font-size="13.5" font-weight="normal" fill="#1a1a1a" text-anchor="start" dominant-baseline="central" textLength="81" lengthAdjust="spacingAndGlyphs" stroke="#1a1a1a" stroke-width="0.22" >logits (B, T, V)</text>
<text x="1135.7" y="760.5" font-size="12.5" font-weight="normal" fill="#1a1a1a" text-anchor="start" dominant-baseline="central" textLength="81" lengthAdjust="spacingAndGlyphs" stroke="#1a1a1a" stroke-width="0.22" >输出词表 logits</text>
<rect x="1262.5" y="284.5" width="197.0" height="161.0" rx="6" fill="#fcf4d8" stroke="#cdb870" stroke-width="1.3" />
<text x="1360.5" y="303.5" font-size="14" font-weight="bold" fill="#1a1a1a" text-anchor="middle" dominant-baseline="central" textLength="103" lengthAdjust="spacingAndGlyphs" >解码器状态 state</text>
<text x="1274.5" y="329" font-size="11" font-weight="normal" fill="#1a1a1a" text-anchor="start" dominant-baseline="central" textLength="41.75" lengthAdjust="spacingAndGlyphs" stroke="#1a1a1a" stroke-width="0.22" >state = [</text>
<text x="1283" y="353.5" font-size="11" font-weight="normal" fill="#1a1a1a" text-anchor="start" dominant-baseline="central" textLength="64.5" lengthAdjust="spacingAndGlyphs" stroke="#1a1a1a" stroke-width="0.22" >enc_outputs,</text>
<text x="1371" y="353.5" font-size="11" font-weight="normal" fill="#444" text-anchor="start" dominant-baseline="central" textLength="53" lengthAdjust="spacingAndGlyphs" stroke="#444" stroke-width="0.22" ># (B, S, d)</text>
<text x="1283" y="378.5" font-size="11" font-weight="normal" fill="#1a1a1a" text-anchor="start" dominant-baseline="central" textLength="51" lengthAdjust="spacingAndGlyphs" stroke="#1a1a1a" stroke-width="0.22" >valid_lens,</text>
<text x="1371" y="378.5" font-size="11" font-weight="normal" fill="#444" text-anchor="start" dominant-baseline="central" textLength="28.5" lengthAdjust="spacingAndGlyphs" stroke="#444" stroke-width="0.22" ># (B,)</text>
<text x="1283" y="403.5" font-size="11" font-weight="normal" fill="#1a1a1a" text-anchor="start" dominant-baseline="central" textLength="29" lengthAdjust="spacingAndGlyphs" stroke="#1a1a1a" stroke-width="0.22" >cache</text>
<text x="1371" y="415" font-size="12.5" font-weight="normal" fill="#1a1a1a" text-anchor="start" dominant-baseline="central" textLength="143" lengthAdjust="spacingAndGlyphs" stroke="#1a1a1a" stroke-width="0.22" ># 列表 [L]，每层 KV 缓存</text>
<text x="1283" y="428.5" font-size="11" font-weight="normal" fill="#1a1a1a" text-anchor="start" dominant-baseline="central" stroke="#1a1a1a" stroke-width="0.22" >]</text>
<path d="M1262,352.5 L1224,352.5" fill="none" stroke="#8a8a8a" stroke-width="1.3" marker-end="url(#ahgo)"/>
<path d="M1262,401.5 L1224,401.5" fill="none" stroke="#8a8a8a" stroke-width="1.3" marker-end="url(#ahgo)"/>
<path d="M1361.5,446 L1361.5,502" fill="none" stroke="#666" stroke-width="1.4" stroke-dasharray="4,3" marker-end="url(#ahg)" marker-start="url(#ahgs)"/>
<rect x="1267.5" y="502.5" width="187.0" height="162.0" rx="6" fill="#ffffff" stroke="#444" stroke-width="1.2" stroke-dasharray="4,2.5" />
<text x="1361.6" y="521.75" font-size="13.5" font-weight="bold" fill="#1a1a1a" text-anchor="middle" dominant-baseline="central" textLength="138.25" lengthAdjust="spacingAndGlyphs" >缓存 (Cache) 每层保存</text>
<path d="M1282,549.5 L1276.5,549.5 L1276.5,602.5 L1281,602.5" fill="none" stroke="#555" stroke-width="1.1"/>
<path d="M1276,576.5 L1280,576.5" fill="none" stroke="#555" stroke-width="1.1"/>
<text x="1283" y="551" font-size="13" font-weight="normal" fill="#1a1a1a" text-anchor="start" dominant-baseline="central" textLength="79" lengthAdjust="spacingAndGlyphs" stroke="#1a1a1a" stroke-width="0.22" >第 i 层 cache:</text>
<text x="1286" y="577" font-size="13" font-weight="normal" fill="#1a1a1a" text-anchor="start" dominant-baseline="central" textLength="108.5" lengthAdjust="spacingAndGlyphs" stroke="#1a1a1a" stroke-width="0.22" >K_cache:  (B, T, d)</text>
<text x="1286" y="603" font-size="13" font-weight="normal" fill="#1a1a1a" text-anchor="start" dominant-baseline="central" textLength="108.5" lengthAdjust="spacingAndGlyphs" stroke="#1a1a1a" stroke-width="0.22" >V_cache:  (B, T, d)</text>
<text x="1360.75" y="630.75" font-size="13" font-weight="normal" fill="#1a1a1a" text-anchor="middle" dominant-baseline="central" textLength="172.5" lengthAdjust="spacingAndGlyphs" stroke="#1a1a1a" stroke-width="0.22" >作用: 推理时避免重复计算历史</text>
<text x="1362.9" y="650" font-size="13" font-weight="normal" fill="#1a1a1a" text-anchor="middle" dominant-baseline="central" textLength="109.25" lengthAdjust="spacingAndGlyphs" stroke="#1a1a1a" stroke-width="0.22" >的 K、V，加速生成</text>
<rect x="14.5" y="804.5" width="596.0" height="210.0" rx="7" fill="#f3faef" stroke="#79c266" stroke-width="1.2" stroke-dasharray="4.4,1.9" />
<text x="283" y="820" font-size="14.5" font-weight="bold" fill="#248a1c" text-anchor="middle" dominant-baseline="central" textLength="206" lengthAdjust="spacingAndGlyphs" >1. Multi-Head Attention 计算过程</text>
<rect x="26.5" y="834.5" width="101.0" height="36.0" rx="4" fill="#eceeea" stroke="#a9b9a5" stroke-width="1.1" />
<text x="76.75" y="846" font-size="10" font-weight="bold" fill="#1a1a1a" text-anchor="middle" dominant-baseline="central" textLength="58.5" lengthAdjust="spacingAndGlyphs" >输入: Q, K, V</text>
<text x="76.9" y="861" font-size="10" font-weight="normal" fill="#1a1a1a" text-anchor="middle" dominant-baseline="central" textLength="63.75" lengthAdjust="spacingAndGlyphs" stroke="#1a1a1a" stroke-width="0.22" >(B, Seq_len, d)</text>
<rect x="162.5" y="834.5" width="111.0" height="36.0" rx="4" fill="#fdf0c6" stroke="#f0cb6c" stroke-width="1.1" />
<text x="218" y="850" font-size="10.5" font-weight="bold" fill="#1a1a1a" text-anchor="middle" dominant-baseline="central" textLength="41.75" lengthAdjust="spacingAndGlyphs" >线性投影</text>
<text x="218" y="863.5" font-size="6.5" font-weight="normal" fill="#555" text-anchor="middle" dominant-baseline="central" stroke="#555" stroke-width="0.22" >q,k,v</text>
<path d="M218.5,892.5 L218.5,870.5" fill="none" stroke="#777" stroke-width="1.8" marker-end="url(#ahg)"/>
<path d="M72,892.5 L266,892.5" fill="none" stroke="#777" stroke-width="1.8"/>
<path d="M72.5,892.5 L72.5,913.5" fill="none" stroke="#777" stroke-width="1.8" marker-end="url(#ahg)"/>
<path d="M169.5,892.5 L169.5,913.5" fill="none" stroke="#777" stroke-width="1.8" marker-end="url(#ahg)"/>
<path d="M266.5,892.5 L266.5,913.5" fill="none" stroke="#777" stroke-width="1.8" marker-end="url(#ahg)"/>
<path d="M266,892.5 L326,892.5" fill="none" stroke="#c4c4c4" stroke-width="1.1" stroke-dasharray="3,2" marker-end="url(#ahl)"/>
<rect x="26.5" y="914.5" width="90.0" height="45.0" rx="4" fill="#eee6fb" stroke="#c9b2ec" stroke-width="1.1" />
<text x="71.25" y="929.5" font-size="13" font-weight="bold" fill="#1a1a1a" text-anchor="middle" dominant-baseline="central" >Q</text>
<text x="71.25" y="945.5" font-size="8" font-weight="normal" fill="#1a1a1a" text-anchor="middle" dominant-baseline="central" textLength="66.5" lengthAdjust="spacingAndGlyphs" stroke="#1a1a1a" stroke-width="0.15" >(B, h, Seq_len, d<tspan font-size="5" dy="1.5">k</tspan><tspan dy="-1.5">)</tspan></text>
<rect x="124.5" y="914.5" width="89.0" height="45.0" rx="4" fill="#eee6fb" stroke="#c9b2ec" stroke-width="1.1" />
<text x="168.5" y="929.5" font-size="13" font-weight="bold" fill="#1a1a1a" text-anchor="middle" dominant-baseline="central" >K</text>
<text x="168.5" y="945.5" font-size="8" font-weight="normal" fill="#1a1a1a" text-anchor="middle" dominant-baseline="central" textLength="66.5" lengthAdjust="spacingAndGlyphs" stroke="#1a1a1a" stroke-width="0.15" >(B, h, Seq_len, d<tspan font-size="5" dy="1.5">k</tspan><tspan dy="-1.5">)</tspan></text>
<rect x="221.5" y="914.5" width="89.0" height="45.0" rx="4" fill="#eee6fb" stroke="#c9b2ec" stroke-width="1.1" />
<text x="265.75" y="929.5" font-size="13" font-weight="bold" fill="#1a1a1a" text-anchor="middle" dominant-baseline="central" >V</text>
<text x="265.75" y="945.5" font-size="8" font-weight="normal" fill="#1a1a1a" text-anchor="middle" dominant-baseline="central" textLength="66.5" lengthAdjust="spacingAndGlyphs" stroke="#1a1a1a" stroke-width="0.15" >(B, h, Seq_len, d<tspan font-size="5" dy="1.5">v</tspan><tspan dy="-1.5">)</tspan></text>
<text x="83" y="989" font-size="14.5" font-weight="normal" fill="#1a1a1a" text-anchor="start" dominant-baseline="central" textLength="86" lengthAdjust="spacingAndGlyphs" stroke="#1a1a1a" stroke-width="0.22" >d<tspan font-size="9" dy="3">k</tspan><tspan dy="-3"> = d</tspan><tspan font-size="9" dy="3">k</tspan><tspan dy="-3"> = d / h</tspan></text>
<rect x="327.5" y="867.5" width="121.0" height="72.0" rx="5" fill="#ebe0fa" stroke="#a67ce0" stroke-width="1.2" stroke-dasharray="4,2.5" />
<text x="387.25" y="887" font-size="10.5" font-weight="bold" fill="#1a1a1a" text-anchor="middle" dominant-baseline="central" textLength="72" lengthAdjust="spacingAndGlyphs" >缩放点积注意力</text>
<text x="387.25" y="902.5" font-size="10.5" font-weight="bold" fill="#1a1a1a" text-anchor="middle" dominant-baseline="central" textLength="85.5" lengthAdjust="spacingAndGlyphs" >Attention(Q, K, V)</text>
<text x="387.25" y="918" font-size="9.5" font-weight="normal" fill="#1a1a1a" text-anchor="middle" dominant-baseline="central" textLength="104.5" lengthAdjust="spacingAndGlyphs" stroke="#1a1a1a" stroke-width="0.15" >(B, h, Seq_len, Seq_len)</text>
<path d="M448,903.5 L465.5,903.5" fill="none" stroke="#c4c4c4" stroke-width="1.1" stroke-dasharray="3,2" marker-end="url(#ahl)"/>
<rect x="466.5" y="874.5" width="62.0" height="59.0" rx="4" fill="#fdeec0" stroke="#f0c75e" stroke-width="1.1" />
<text x="497.25" y="896" font-size="10" font-weight="bold" fill="#1a1a1a" text-anchor="middle" dominant-baseline="central" textLength="40.5" lengthAdjust="spacingAndGlyphs" >拼接多头</text>
<text x="497.25" y="911.5" font-size="10.5" font-weight="normal" fill="#1a1a1a" text-anchor="middle" dominant-baseline="central" textLength="33" lengthAdjust="spacingAndGlyphs" stroke="#1a1a1a" stroke-width="0.22" >Concat</text>
<path d="M528,903.5 L544,903.5" fill="none" stroke="#888" stroke-width="1.5" marker-end="url(#ahg)"/>
<rect x="544.5" y="874.5" width="55.0" height="43.0" rx="4" fill="#eceeea" stroke="#c6cac4" stroke-width="1" />
<text x="572.75" y="896" font-size="9.5" font-weight="bold" fill="#1a1a1a" text-anchor="middle" dominant-baseline="central" textLength="37" lengthAdjust="spacingAndGlyphs" >线性投影</text>
<text x="571.9" y="910" font-size="8.5" font-weight="bold" fill="#1a1a1a" text-anchor="middle" dominant-baseline="central" textLength="16.25" lengthAdjust="spacingAndGlyphs" >输出</text>
<rect x="542.5" y="918.5" width="57.0" height="29.0" rx="4" fill="#eef0ec" stroke="#c6cac4" stroke-width="1" />
<text x="570.4" y="924.5" font-size="8" font-weight="bold" fill="#1a1a1a" text-anchor="middle" dominant-baseline="central" textLength="15.75" lengthAdjust="spacingAndGlyphs" >输出</text>
<text x="570.6" y="936" font-size="7.5" font-weight="normal" fill="#1a1a1a" text-anchor="middle" dominant-baseline="central" textLength="53.75" lengthAdjust="spacingAndGlyphs" stroke="#1a1a1a" stroke-width="0.12" >(B, Seq_len, d)</text>
<rect x="625.5" y="804.5" width="332.0" height="210.0" rx="7" fill="#f2f6fd" stroke="#6f9fe3" stroke-width="1.2" stroke-dasharray="4.4,1.9" />
<text x="792.4" y="821" font-size="14.5" font-weight="bold" fill="#1c5dbd" text-anchor="middle" dominant-baseline="central" textLength="246.25" lengthAdjust="spacingAndGlyphs" >2. Self-Attention vs Cross-Attention</text>
<rect x="637.5" y="869.5" width="145.0" height="90.0" rx="5" fill="#e5eefc" stroke="#6c9ee3" stroke-width="1.2" />
<text x="709.4" y="883" font-size="11" font-weight="bold" fill="#1a1a1a" text-anchor="middle" dominant-baseline="central" textLength="73.75" lengthAdjust="spacingAndGlyphs" >Self-Attention</text>
<text x="709.1" y="899" font-size="10" font-weight="bold" fill="#1a1a1a" text-anchor="middle" dominant-baseline="central" textLength="105.75" lengthAdjust="spacingAndGlyphs" >(编码器 / 解码器注意力)</text>
<text x="709.1" y="922.5" font-size="12" font-weight="normal" fill="#1a1a1a" text-anchor="middle" dominant-baseline="central" textLength="75.75" lengthAdjust="spacingAndGlyphs" stroke="#1a1a1a" stroke-width="0.22" >Q = K = V = X</text>
<text x="709.4" y="945.5" font-size="10.5" font-weight="normal" fill="#1a1a1a" text-anchor="middle" dominant-baseline="central" textLength="119.75" lengthAdjust="spacingAndGlyphs" stroke="#1a1a1a" stroke-width="0.22" >(同一序列内部计算注意力)</text>
<rect x="792.5" y="869.5" width="152.0" height="110.0" rx="5" fill="#e8effb" stroke="#9dbde8" stroke-width="1.1" />
<text x="867.6" y="883" font-size="11" font-weight="bold" fill="#1a1a1a" text-anchor="middle" dominant-baseline="central" textLength="83.75" lengthAdjust="spacingAndGlyphs" >Cross-Attention</text>
<text x="867.75" y="899" font-size="10" font-weight="bold" fill="#1a1a1a" text-anchor="middle" dominant-baseline="central" textLength="103" lengthAdjust="spacingAndGlyphs" >(解码器-编码器注意力)</text>
<text x="867.6" y="922" font-size="12" font-weight="normal" fill="#1a1a1a" text-anchor="middle" dominant-baseline="central" textLength="81.25" lengthAdjust="spacingAndGlyphs" stroke="#1a1a1a" stroke-width="0.22" >Q = 解码器输出</text>
<text x="867.6" y="943" font-size="12" font-weight="normal" fill="#1a1a1a" text-anchor="middle" dominant-baseline="central" textLength="106.25" lengthAdjust="spacingAndGlyphs" stroke="#1a1a1a" stroke-width="0.22" >K = V = 编码器输出</text>
<text x="867.6" y="967" font-size="10.5" font-weight="normal" fill="#1a1a1a" text-anchor="middle" dominant-baseline="central" textLength="118.75" lengthAdjust="spacingAndGlyphs" stroke="#1a1a1a" stroke-width="0.22" >(从输入序列中获取信息)</text>
<rect x="972.5" y="804.5" width="282.0" height="210.0" rx="7" fill="#fdf0f5" stroke="#dc6e9e" stroke-width="1.2" stroke-dasharray="4.4,1.9" />
<text x="1112.5" y="822" font-size="14" font-weight="bold" fill="#b0165c" text-anchor="middle" dominant-baseline="central" textLength="230" lengthAdjust="spacingAndGlyphs" >3. Masked Self-Attention (因果掩码)</text>
<text x="1111.75" y="844.5" font-size="12.5" font-weight="normal" fill="#1a1a1a" text-anchor="middle" dominant-baseline="central" textLength="188.5" lengthAdjust="spacingAndGlyphs" stroke="#1a1a1a" stroke-width="0.22" >目标序列:  [&lt;BOS&gt;, y<tspan font-size="8" dy="2">1</tspan><tspan dy="-2">, y</tspan><tspan font-size="8" dy="2">2</tspan><tspan dy="-2">, y</tspan><tspan font-size="8" dy="2">3</tspan><tspan dy="-2">, y</tspan><tspan font-size="8" dy="2">4</tspan><tspan dy="-2">]</tspan></text>
<text x="1058.75" y="869" font-size="12" font-weight="normal" fill="#1a1a1a" text-anchor="middle" dominant-baseline="central" stroke="#1a1a1a" stroke-width="0.22" >&lt;BOS&gt;</text>
<text x="1025" y="893.25" font-size="12" font-weight="normal" fill="#1a1a1a" text-anchor="end" dominant-baseline="central" stroke="#1a1a1a" stroke-width="0.22" >&lt;BOS&gt;</text>
<text x="1097.25" y="869" font-size="12" font-weight="normal" fill="#1a1a1a" text-anchor="middle" dominant-baseline="central" stroke="#1a1a1a" stroke-width="0.22" >y<tspan font-size="8" dy="2">1</tspan></text>
<text x="1025" y="917.75" font-size="12" font-weight="normal" fill="#1a1a1a" text-anchor="end" dominant-baseline="central" stroke="#1a1a1a" stroke-width="0.22" >y<tspan font-size="8" dy="2">1</tspan></text>
<text x="1132.75" y="869" font-size="12" font-weight="normal" fill="#1a1a1a" text-anchor="middle" dominant-baseline="central" stroke="#1a1a1a" stroke-width="0.22" >y<tspan font-size="8" dy="2">2</tspan></text>
<text x="1025" y="942.0" font-size="12" font-weight="normal" fill="#1a1a1a" text-anchor="end" dominant-baseline="central" stroke="#1a1a1a" stroke-width="0.22" >y<tspan font-size="8" dy="2">2</tspan></text>
<text x="1168.5" y="869" font-size="12" font-weight="normal" fill="#1a1a1a" text-anchor="middle" dominant-baseline="central" stroke="#1a1a1a" stroke-width="0.22" >y<tspan font-size="8" dy="2">3</tspan></text>
<text x="1025" y="966.5" font-size="12" font-weight="normal" fill="#1a1a1a" text-anchor="end" dominant-baseline="central" stroke="#1a1a1a" stroke-width="0.22" >y<tspan font-size="8" dy="2">3</tspan></text>
<text x="1204.25" y="869" font-size="12" font-weight="normal" fill="#1a1a1a" text-anchor="middle" dominant-baseline="central" stroke="#1a1a1a" stroke-width="0.22" >y<tspan font-size="8" dy="2">4</tspan></text>
<text x="1025" y="991.0" font-size="12" font-weight="normal" fill="#1a1a1a" text-anchor="end" dominant-baseline="central" stroke="#1a1a1a" stroke-width="0.22" >y<tspan font-size="8" dy="2">4</tspan></text>
<rect x="1038" y="881" width="184" height="122" rx="0" fill="#ffffff" stroke="none" stroke-width="1" />
<rect x="1038.5" y="881.5" width="41.0" height="24.0" rx="0" fill="none" stroke="#abc5ab" stroke-width="1.3" />
<rect x="1079.5" y="881.5" width="36.0" height="24.0" rx="0" fill="none" stroke="#e6adc3" stroke-width="1.3" />
<rect x="1115.5" y="881.5" width="35.0" height="24.0" rx="0" fill="none" stroke="#e6adc3" stroke-width="1.3" />
<rect x="1150.5" y="881.5" width="36.0" height="24.0" rx="0" fill="none" stroke="#e6adc3" stroke-width="1.3" />
<rect x="1186.5" y="881.5" width="36.0" height="24.0" rx="0" fill="none" stroke="#e6adc3" stroke-width="1.3" />
<rect x="1038.5" y="905.5" width="41.0" height="25.0" rx="0" fill="none" stroke="#abc5ab" stroke-width="1.3" />
<rect x="1079.5" y="905.5" width="36.0" height="25.0" rx="0" fill="none" stroke="#abc5ab" stroke-width="1.3" />
<rect x="1115.5" y="905.5" width="35.0" height="25.0" rx="0" fill="none" stroke="#e6adc3" stroke-width="1.3" />
<rect x="1150.5" y="905.5" width="36.0" height="25.0" rx="0" fill="none" stroke="#e6adc3" stroke-width="1.3" />
<rect x="1186.5" y="905.5" width="36.0" height="25.0" rx="0" fill="none" stroke="#e6adc3" stroke-width="1.3" />
<rect x="1038.5" y="930.5" width="41.0" height="24.0" rx="0" fill="none" stroke="#abc5ab" stroke-width="1.3" />
<rect x="1079.5" y="930.5" width="36.0" height="24.0" rx="0" fill="none" stroke="#abc5ab" stroke-width="1.3" />
<rect x="1115.5" y="930.5" width="35.0" height="24.0" rx="0" fill="none" stroke="#abc5ab" stroke-width="1.3" />
<rect x="1150.5" y="930.5" width="36.0" height="24.0" rx="0" fill="none" stroke="#e6adc3" stroke-width="1.3" />
<rect x="1186.5" y="930.5" width="36.0" height="24.0" rx="0" fill="none" stroke="#e6adc3" stroke-width="1.3" />
<rect x="1038.5" y="954.5" width="41.0" height="25.0" rx="0" fill="none" stroke="#abc5ab" stroke-width="1.3" />
<rect x="1079.5" y="954.5" width="36.0" height="25.0" rx="0" fill="none" stroke="#abc5ab" stroke-width="1.3" />
<rect x="1115.5" y="954.5" width="35.0" height="25.0" rx="0" fill="none" stroke="#abc5ab" stroke-width="1.3" />
<rect x="1150.5" y="954.5" width="36.0" height="25.0" rx="0" fill="none" stroke="#abc5ab" stroke-width="1.3" />
<rect x="1186.5" y="954.5" width="36.0" height="25.0" rx="0" fill="none" stroke="#e6adc3" stroke-width="1.3" />
<rect x="1038.5" y="979.5" width="41.0" height="24.0" rx="0" fill="none" stroke="#abc5ab" stroke-width="1.3" />
<rect x="1079.5" y="979.5" width="36.0" height="24.0" rx="0" fill="none" stroke="#abc5ab" stroke-width="1.3" />
<rect x="1115.5" y="979.5" width="35.0" height="24.0" rx="0" fill="none" stroke="#abc5ab" stroke-width="1.3" />
<rect x="1150.5" y="979.5" width="36.0" height="24.0" rx="0" fill="none" stroke="#abc5ab" stroke-width="1.3" />
<rect x="1186.5" y="979.5" width="36.0" height="24.0" rx="0" fill="none" stroke="#abc5ab" stroke-width="1.3" />
<path d="M1079.5,905.5 L1222,1003" fill="none" stroke="#b59c8c" stroke-width="0.9"/>
<path d="M1054.15,893.45 L1057.45,896.65 L1063.55,888.55" fill="none" stroke="#22a324" stroke-width="2.1" stroke-linecap="round" stroke-linejoin="round"/>
<path d="M1128.55,889.45 L1136.95,897.05 M1136.95,889.45 L1128.55,897.05" fill="none" stroke="#e3262a" stroke-width="2" stroke-linecap="round"/>
<path d="M1164.30,889.45 L1172.70,897.05 M1172.70,889.45 L1164.30,897.05" fill="none" stroke="#e3262a" stroke-width="2" stroke-linecap="round"/>
<path d="M1200.05,889.45 L1208.45,897.05 M1208.45,889.45 L1200.05,897.05" fill="none" stroke="#e3262a" stroke-width="2" stroke-linecap="round"/>
<path d="M1054.15,917.95 L1057.45,921.15 L1063.55,913.05" fill="none" stroke="#22a324" stroke-width="2.1" stroke-linecap="round" stroke-linejoin="round"/>
<path d="M1093.05,913.95 L1101.45,921.55 M1101.45,913.95 L1093.05,921.55" fill="none" stroke="#3a2e10" stroke-width="2" stroke-linecap="round"/>
<path d="M1128.55,913.95 L1136.95,921.55 M1136.95,913.95 L1128.55,921.55" fill="none" stroke="#e3262a" stroke-width="2" stroke-linecap="round"/>
<path d="M1164.30,913.95 L1172.70,921.55 M1172.70,913.95 L1164.30,921.55" fill="none" stroke="#e3262a" stroke-width="2" stroke-linecap="round"/>
<path d="M1200.05,913.95 L1208.45,921.55 M1208.45,913.95 L1200.05,921.55" fill="none" stroke="#e3262a" stroke-width="2" stroke-linecap="round"/>
<path d="M1054.15,942.20 L1057.45,945.40 L1063.55,937.30" fill="none" stroke="#22a324" stroke-width="2.1" stroke-linecap="round" stroke-linejoin="round"/>
<path d="M1092.65,942.20 L1095.95,945.40 L1102.05,937.30" fill="none" stroke="#22a324" stroke-width="2.1" stroke-linecap="round" stroke-linejoin="round"/>
<path d="M1128.55,938.20 L1136.95,945.80 M1136.95,938.20 L1128.55,945.80" fill="none" stroke="#3a2e10" stroke-width="2" stroke-linecap="round"/>
<path d="M1164.30,938.20 L1172.70,945.80 M1172.70,938.20 L1164.30,945.80" fill="none" stroke="#e3262a" stroke-width="2" stroke-linecap="round"/>
<path d="M1200.05,938.20 L1208.45,945.80 M1208.45,938.20 L1200.05,945.80" fill="none" stroke="#e3262a" stroke-width="2" stroke-linecap="round"/>
<path d="M1054.15,966.70 L1057.45,969.90 L1063.55,961.80" fill="none" stroke="#22a324" stroke-width="2.1" stroke-linecap="round" stroke-linejoin="round"/>
<path d="M1092.65,966.70 L1095.95,969.90 L1102.05,961.80" fill="none" stroke="#22a324" stroke-width="2.1" stroke-linecap="round" stroke-linejoin="round"/>
<path d="M1128.15,966.70 L1131.45,969.90 L1137.55,961.80" fill="none" stroke="#22a324" stroke-width="2.1" stroke-linecap="round" stroke-linejoin="round"/>
<path d="M1164.30,962.70 L1172.70,970.30 M1172.70,962.70 L1164.30,970.30" fill="none" stroke="#3a2e10" stroke-width="2" stroke-linecap="round"/>
<path d="M1200.05,962.70 L1208.45,970.30 M1208.45,962.70 L1200.05,970.30" fill="none" stroke="#e3262a" stroke-width="2" stroke-linecap="round"/>
<path d="M1054.15,991.20 L1057.45,994.40 L1063.55,986.30" fill="none" stroke="#22a324" stroke-width="2.1" stroke-linecap="round" stroke-linejoin="round"/>
<path d="M1092.65,991.20 L1095.95,994.40 L1102.05,986.30" fill="none" stroke="#22a324" stroke-width="2.1" stroke-linecap="round" stroke-linejoin="round"/>
<path d="M1128.15,991.20 L1131.45,994.40 L1137.55,986.30" fill="none" stroke="#22a324" stroke-width="2.1" stroke-linecap="round" stroke-linejoin="round"/>
<path d="M1163.90,991.20 L1167.20,994.40 L1173.30,986.30" fill="none" stroke="#22a324" stroke-width="2.1" stroke-linecap="round" stroke-linejoin="round"/>
<path d="M1200.05,987.20 L1208.45,994.80 M1208.45,987.20 L1200.05,994.80" fill="none" stroke="#e3262a" stroke-width="2" stroke-linecap="round"/>
<rect x="1269.5" y="804.5" width="242.0" height="210.0" rx="7" fill="#fef5e9" stroke="#f39a38" stroke-width="1.2" stroke-dasharray="4.4,1.9" />
<text x="1390.75" y="822" font-size="14" font-weight="bold" fill="#b25c0e" text-anchor="middle" dominant-baseline="central" textLength="70" lengthAdjust="spacingAndGlyphs" >4. 形状汇总</text>
<text x="1285" y="849.0" font-size="12.5" font-weight="normal" fill="#1a1a1a" text-anchor="start" dominant-baseline="central" textLength="37" lengthAdjust="spacingAndGlyphs" stroke="#1a1a1a" stroke-width="0.55" >src_X:</text>
<text x="1333" y="849.0" font-size="12.5" font-weight="normal" fill="#1a1a1a" text-anchor="start" dominant-baseline="central" textLength="31.5" lengthAdjust="spacingAndGlyphs" stroke="#1a1a1a" stroke-width="0.22" >(B, S)</text>
<text x="1285" y="871.75" font-size="12.5" font-weight="normal" fill="#1a1a1a" text-anchor="start" dominant-baseline="central" textLength="36.5" lengthAdjust="spacingAndGlyphs" stroke="#1a1a1a" stroke-width="0.55" >tgt_X:</text>
<text x="1333" y="871.75" font-size="12.5" font-weight="normal" fill="#1a1a1a" text-anchor="start" dominant-baseline="central" textLength="31" lengthAdjust="spacingAndGlyphs" stroke="#1a1a1a" stroke-width="0.22" >(B, T)</text>
<text x="1285" y="894.5" font-size="12.5" font-weight="normal" fill="#1a1a1a" text-anchor="start" dominant-baseline="central" textLength="75.75" lengthAdjust="spacingAndGlyphs" stroke="#1a1a1a" stroke-width="0.55" >enc_outputs:</text>
<text x="1372.75" y="894.5" font-size="12.5" font-weight="normal" fill="#1a1a1a" text-anchor="start" dominant-baseline="central" textLength="45.5" lengthAdjust="spacingAndGlyphs" stroke="#1a1a1a" stroke-width="0.22" >(B, S, d)</text>
<text x="1285" y="917.25" font-size="12.5" font-weight="normal" fill="#1a1a1a" text-anchor="start" dominant-baseline="central" textLength="100.75" lengthAdjust="spacingAndGlyphs" stroke="#1a1a1a" stroke-width="0.55" >X (decoder输入):</text>
<text x="1395.75" y="917.25" font-size="12.5" font-weight="normal" fill="#1a1a1a" text-anchor="start" dominant-baseline="central" textLength="45.5" lengthAdjust="spacingAndGlyphs" stroke="#1a1a1a" stroke-width="0.22" >(B, T, d)</text>
<text x="1285" y="940.0" font-size="12.5" font-weight="normal" fill="#1a1a1a" text-anchor="start" dominant-baseline="central" textLength="37" lengthAdjust="spacingAndGlyphs" stroke="#1a1a1a" stroke-width="0.55" >logits:</text>
<text x="1333" y="940.0" font-size="12.5" font-weight="normal" fill="#1a1a1a" text-anchor="start" dominant-baseline="central" textLength="47.25" lengthAdjust="spacingAndGlyphs" stroke="#1a1a1a" stroke-width="0.22" >(B, T, V)</text>
<text x="1285" y="962.75" font-size="12.5" font-weight="normal" fill="#1a1a1a" text-anchor="start" dominant-baseline="central" textLength="114.5" lengthAdjust="spacingAndGlyphs" stroke="#1a1a1a" stroke-width="0.55" >self_attn_weights:</text>
<text x="1412.75" y="962.75" font-size="12.5" font-weight="normal" fill="#1a1a1a" text-anchor="start" dominant-baseline="central" textLength="61.75" lengthAdjust="spacingAndGlyphs" stroke="#1a1a1a" stroke-width="0.22" >(B, h, T, T)</text>
<text x="1285" y="985.5" font-size="12.5" font-weight="normal" fill="#1a1a1a" text-anchor="start" dominant-baseline="central" textLength="122" lengthAdjust="spacingAndGlyphs" stroke="#1a1a1a" stroke-width="0.55" >cross_attn_weights:</text>
<text x="1423.25" y="985.5" font-size="12.5" font-weight="normal" fill="#1a1a1a" text-anchor="start" dominant-baseline="central" textLength="61.75" lengthAdjust="spacingAndGlyphs" stroke="#1a1a1a" stroke-width="0.22" >(B, h, T, S)</text>
</svg>
</body></html>
